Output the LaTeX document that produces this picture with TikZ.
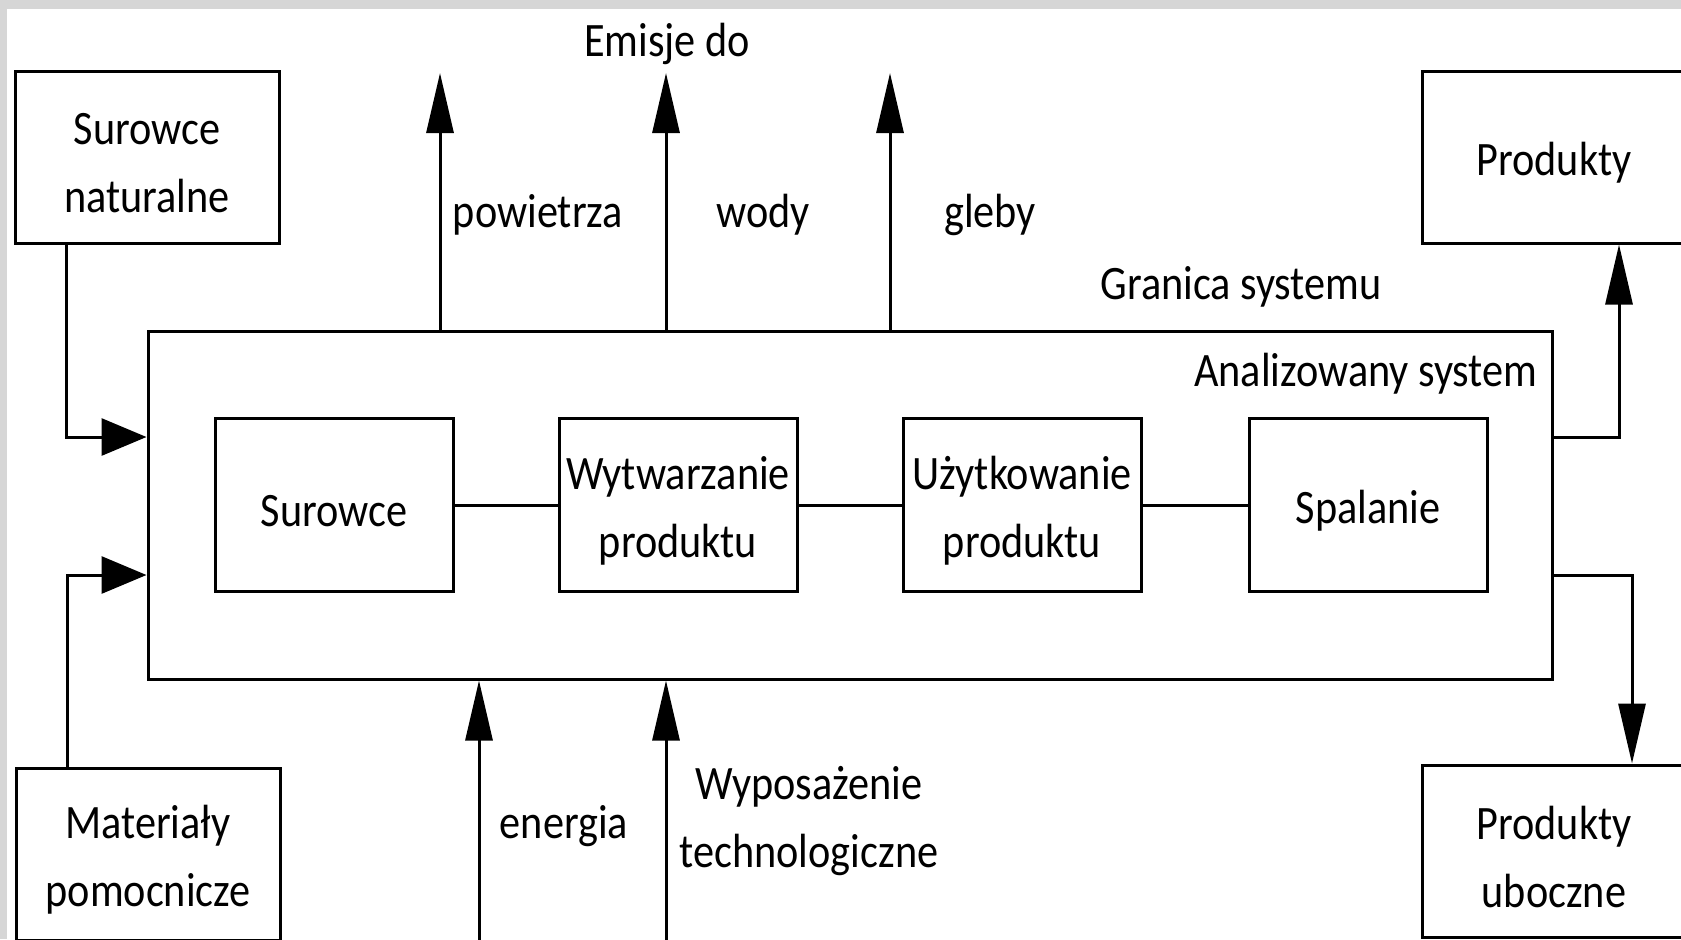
\documentclass[tikz,border=0pt]{standalone}
\usepackage{fontspec}
\setmainfont[FakeStretch=0.88]{Carlito}
\usepackage{tikz}
\usetikzlibrary{arrows.meta,positioning,calc}
\definecolor{frame1} {RGB} {214, 214, 214}
\tikzstyle{lca}=[
  x=0.5pt, y=-0.5pt, line width=1.5pt, font=\fontsize{24}{34}\selectfont
]
\tikzstyle{lcanode}=[
  line width=1.5pt, draw, fill=white, align=center, inner sep=0pt
]
\tikzstyle{lcaouter}=[
  lcanode, minimum width=132pt, minimum height=86pt
]
\tikzstyle{lcastage}=[
  lcanode, minimum width=119pt, minimum height=86.5pt
]
\tikzstyle{lcatext}=[
  align=center, inner sep=0pt, yshift=-3pt
]
\tikzstyle{lcaedge}=[
    line width=1.5pt
]
\tikzstyle{lcaup}=[
    lcaedge, -{Triangle[length=30pt,width=13.5pt]}
]
\tikzstyle{lcaside}=[
    lcaedge, -{Triangle[length=22.5pt,width=18.5pt]}
]
\begin{document}
\begin{tikzpicture}[lca]

    \useasboundingbox (0,0) rectangle (1681,939);
    \fill[frame1] (0,0) rectangle (1681,939);
    \fill[white] (7,9) rectangle (1681,939);
    \clip (0,0) rectangle (1681,939);

    \node (sysbox) [lcanode, minimum width=702pt, minimum height=174pt] at (850,505) {};
    \node (syslabel) [anchor=east] at ($(sysbox.north east) + (-8,44)$) {Analizowany system};

    \node (stage1) [lcastage, label={[lcatext]center:Surowce}] at (334,505) {};
    \node (stage2) [lcastage, label={[lcatext]center:Wytwarzanie\\produktu}] at ($(stage1) + (344,0)$) {};
    \node (stage3) [lcastage, label={[lcatext]center:Użytkowanie\\produktu}] at ($(stage2) + (344,0)$) {};
    \node (stage4) [lcastage, label={[lcatext]center:Spalanie}] at ($(stage3) + (346,0)$) {};

    \node (natural) [lcaouter, label={[lcatext]center:Surowce\\naturalne}] at (147,157) {};
    \node (auxiliary) [lcaouter, label={[lcatext]center:Materiały\\pomocnicze}] at (148,854) {};
    \node (products) [lcaouter, label={[lcatext]center:Produkty}] at (1554,157) {};
    \node (byproducts) [lcaouter, label={[lcatext]center:Produkty\\uboczne}] at (1554,851) {};

    \node (emis) at (667,44) {Emisje do};
    \node (air) at (538,215) {powietrza};
    \node (water) at (763,215) {wody};
    \node (soil) at (990,215) {gleby};
    \node (bound) at (1241,287) {Granica systemu};
    \node (energy) at (564,826) {energia};
    \node (equip) [align=center] at (809,821) {Wyposażenie\\technologiczne};

    \coordinate (airout) at (440,73);
    \coordinate (waterout) at (666,73);
    \coordinate (soilout) at (890,73);
    \coordinate (energyin) at (479,945);
    \coordinate (equipin) at (666,945);

    \draw [lcaedge] (stage1.east) -- (stage2.west);
    \draw [lcaedge] (stage2.east) -- (stage3.west);
    \draw [lcaedge] (stage3.east) -- (stage4.west);

    \draw [lcaup] (sysbox.north -| airout) -- (airout);
    \draw [lcaup] (sysbox.north -| waterout) -- (waterout);
    \draw [lcaup] (sysbox.north -| soilout) -- (soilout);
    \draw [lcaup] (energyin) -- (energyin |- sysbox.south);
    \draw [lcaup] (equipin) -- (equipin |- sysbox.south);

    \draw [lcaside] ($(natural.south west) + (53,0)$) |- ($(sysbox.west) + (0,-68)$);
    \draw [lcaside] ($(auxiliary.north west) + (53,0)$) |- ($(sysbox.west) + (0,70)$);
    \draw [lcaup] ($(sysbox.east) + (0,-68)$) -| ($(products.south) + (65,0)$);
    \draw [lcaup] ($(sysbox.east) + (0,70)$) -| ($(byproducts.north) + (78,0)$);

\end{tikzpicture}
\end{document}
